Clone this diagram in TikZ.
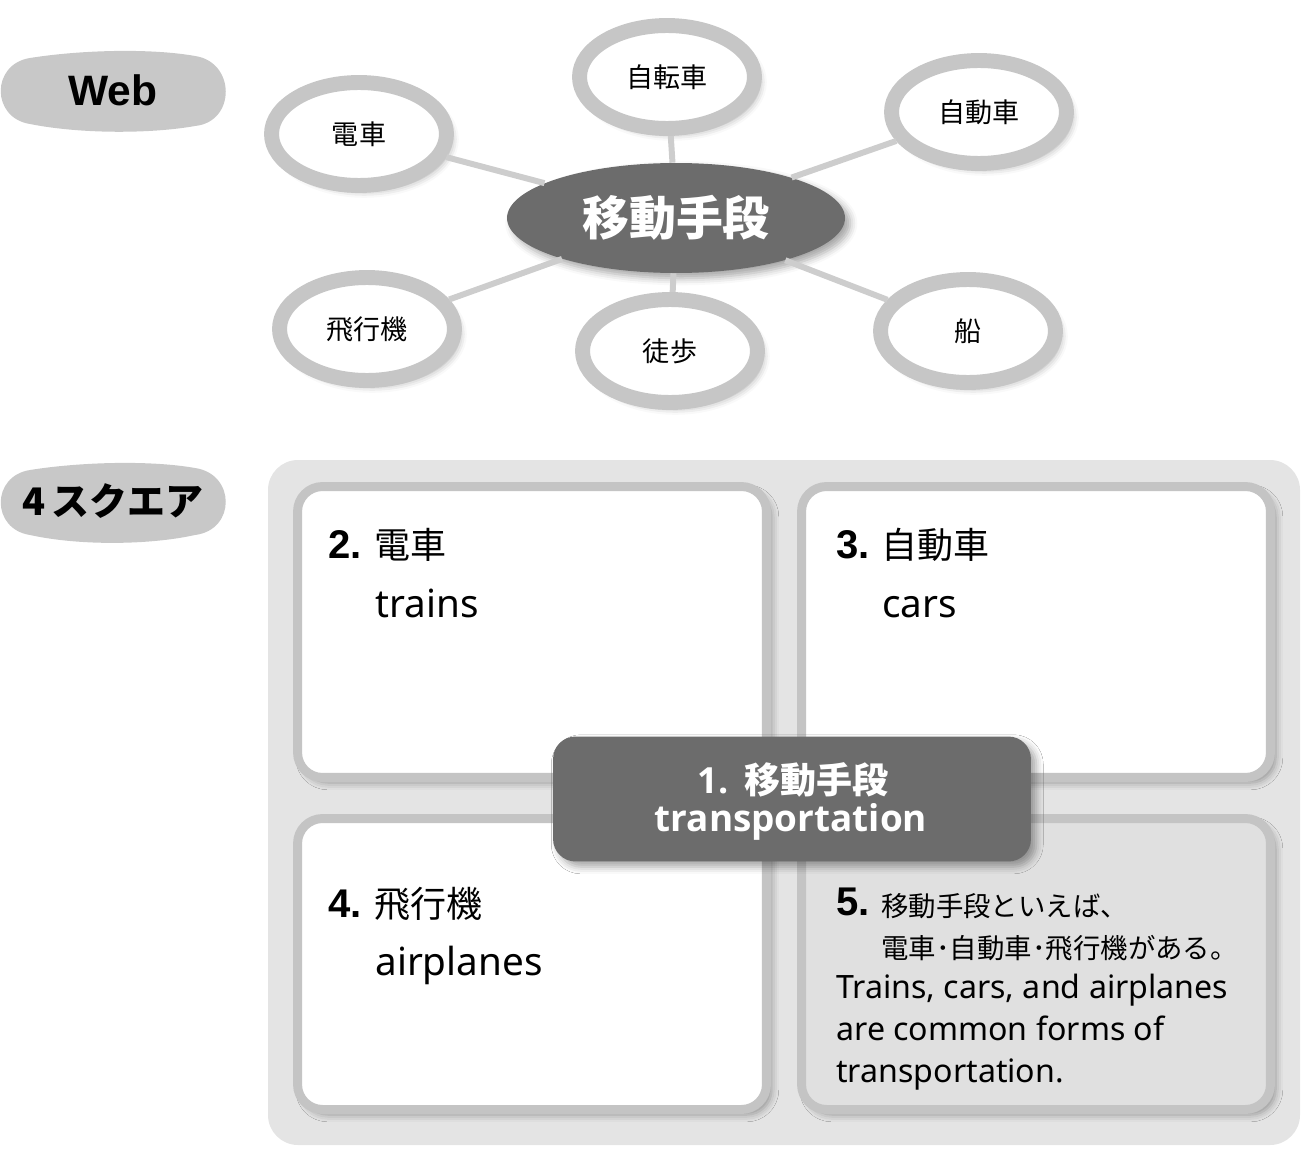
\documentclass[tikz,border=0pt]{standalone}
\usepackage{fontspec}
\setmainfont{Noto Sans CJK JP}
\newfontfamily\en{Noto Sans}
\newfontfamily\enb{Open Sans}
\newfontfamily\ar{Liberation Sans}
\usetikzlibrary{shapes.geometric,shadows.blur}
\definecolor{lblgray}{HTML}{C8C8C8}
\definecolor{ringgray}{HTML}{C6C6C6}
\definecolor{conngray}{HTML}{CDCDCD}
\definecolor{darkfill}{HTML}{6C6C6C}
\definecolor{bggray}{HTML}{E4E4E4}
\definecolor{boxborder}{HTML}{C4C4C4}
\definecolor{boxfive}{HTML}{E0E0E0}
\newcommand\numf[1]{{\ar\bfseries\fontsize{22.8}{26}\selectfont #1}}
\tikzset{
  softshadow/.style={blur shadow={shadow xshift=3pt,shadow yshift=-3pt,shadow blur radius=4pt,shadow opacity=35}},
  ring/.style={ellipse, draw=ringgray, line width=8.5pt, fill=white,
    minimum width=3.5cm, minimum height=2.06cm, inner sep=0pt,
    font=\fontsize{15.4}{18}\selectfont, softshadow},
  hub/.style={ellipse, fill=darkfill, draw=none, text=white,
    minimum width=6.76cm, minimum height=2.2cm, inner sep=0pt,
    font=\bfseries\fontsize{26.7}{30}\selectfont, softshadow},
  conn/.style={draw=conngray, line width=3.4pt},
  blobfill/.style={fill=lblgray, draw=none},
  blobtext/.style={inner sep=0pt, text=black},
  quad/.style={rectangle, rounded corners=0.5cm, draw=boxborder, line width=5.1pt,
    fill=white, minimum width=9.38cm, minimum height=5.82cm, inner sep=0pt, softshadow},
  centerbox/.style={rectangle, rounded corners=0.45cm, fill=darkfill, draw=none,
    minimum width=9.56cm, minimum height=2.5cm, inner sep=0pt, softshadow},
  txt/.style={anchor=base west, inner sep=0pt, text=black},
  jphead/.style={txt, font=\fontsize{20.5}{24}\selectfont},
  enhead/.style={txt, font=\en\fontsize{22}{26}\selectfont},
  jpbody/.style={txt, font=\fontsize{15.6}{19}\selectfont},
  enbody/.style={txt, font=\en\fontsize{18.3}{22}\selectfont},
}
\begin{document}
\begin{tikzpicture}[x=0.02cm,y=-0.02cm]
\useasboundingbox (0,0) rectangle (1304,1152);

% ---------- Web label ----------
\path[blobfill] (30,58) .. controls (80,50) and (150,48) .. (195,56)
  .. controls (236,62) and (236,122) .. (195,126)
  .. controls (150,134) and (80,134) .. (30,124)
  .. controls (-9,118) and (-9,64) .. (30,58) -- cycle;
\node[blobtext, font=\ar\bfseries\fontsize{24.2}{28}\selectfont] (weblbl) at (113,90) {Web};

% ---------- Web diagram ----------
\node[hub] (hub) at (676,218) {移動手段};
\node[ring] (densha) at (359,134) {電車};
\node[ring] (jitensha) at (667,77) {自転車};
\node[ring] (jidousha) at (979,112) {自動車};
\node[ring] (hikouki) at (367,329) {飛行機};
\node[ring] (toho) at (670,351) {徒歩};
\node[ring] (fune) at (968,331) {船};
\foreach \n in {densha,jitensha,jidousha,hikouki,toho,fune}
  \draw[conn] (hub) -- (\n);

% ---------- 4 square label ----------
\path[blobfill] (30,470) .. controls (80,462) and (150,460) .. (195,468)
  .. controls (236,474) and (236,530) .. (195,535)
  .. controls (150,545) and (80,546) .. (30,535)
  .. controls (-9,529) and (-9,476) .. (30,470) -- cycle;
\node[blobtext, font=\bfseries\fontsize{21.6}{26}\selectfont] (sqlbl) at (113,501) {4\,スクエア};

% ---------- 4 square ----------
\path[fill=bggray, rounded corners=0.6cm] (268,460) rectangle (1300,1145);
\node[quad] (q2) at (532,632) {};
\node[quad] (q3) at (1036,632) {};
\node[quad] (q4) at (532,964) {};
\node[quad, fill=boxfive] (q5) at (1036,964) {};
\node[centerbox] (q1) at (792,799) {};
\node[anchor=base, inner sep=0pt, text=white, font=\bfseries\fontsize{20.5}{24}\selectfont] (q1a) at (793,793)
  {{\enb\bfseries 1.}\hspace{9pt}移動手段};
\node[anchor=base, inner sep=0pt, text=white, font=\enb\bfseries\fontsize{21}{24}\selectfont] (q1b) at (791,831)
  {transportation};

% box 2
\node[txt] (n2) at (328,558) {\numf{2.}};
\node[jphead] (j2) at (374,558) {電車};
\node[enhead] (e2) at (375,617) {trains};
% box 3
\node[txt] (n3) at (836,558) {\numf{3.}};
\node[jphead] (j3) at (881,558) {自動車};
\node[enhead] (e3) at (882,617) {cars};
% box 4
\node[txt] (n4) at (328,917) {\numf{4.}};
\node[jphead] (j4) at (374,917) {飛行機};
\node[enhead] (e4) at (375,975) {airplanes};
% box 5
\node[txt] (n5) at (836,915) {\numf{5.}};
\node[jpbody] (j5a) at (881,916) {移動手段といえば、};
\node[jpbody] (j5b) at (881,958) {電車･自動車･飛行機がある。};
\node[enbody] (e5a) at (836,998) {Trains, cars, and airplanes};
\node[enbody] (e5b) at (836,1040) {are common forms of};
\node[enbody] (e5c) at (836,1082) {transportation.};
\end{tikzpicture}
\end{document}
